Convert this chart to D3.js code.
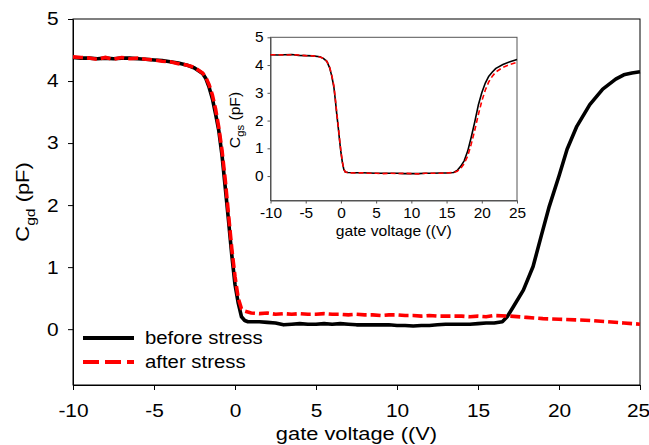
<!DOCTYPE html>
<html><head><meta charset="utf-8">
<script src="https://cdn.jsdelivr.net/npm/d3@7"></script>
<style>
html,body{margin:0;padding:0;background:#fff;}
svg{display:block;font-family:"Liberation Sans",Arial,sans-serif;}
</style></head>
<body><svg id="chart" width="649" height="445"></svg>
<script>
// ---------- data ----------
const xTicks = [-10, -5, 0, 5, 10, 15, 20, 25];
const yTicks = [0, 1, 2, 3, 4, 5];
const seriesNames = ["before stress", "after stress"];

// main plot: C_gd vs gate voltage
const gdBeforeV = [-10,-9.5,-9,-8.5,-8,-7.5,-7,-6.5,-6,-5.5,-5,-4.5,-4,-3.5,-3,-2.5,-2,-1.8,-1.6,-1.4,-1.2,-1,-0.8,-0.6,-0.4,-0.2,0,0.2,0.4,0.6,0.8,1,1.5,2,2.5,3,3.5,4,4.5,5,5.5,6,6.5,7,7.5,8,8.5,9,9.5,10,10.5,11,11.5,12,12.5,13,13.5,14,14.5,15,15.5,16,16.5,16.8,17.2,17.8,18.4,18.9,19.4,20,20.5,21.1,21.9,22.7,23.5,24,24.5,25];
const gdBeforeC = [4.38,4.37,4.37,4.36,4.37,4.36,4.37,4.37,4.36,4.35,4.34,4.33,4.31,4.29,4.26,4.21,4.12,4.04,3.9,3.72,3.47,3.2,2.8,2.28,1.75,1.2,0.72,0.42,0.2,0.14,0.12,0.12,0.12,0.11,0.1,0.07,0.08,0.09,0.08,0.08,0.09,0.08,0.09,0.08,0.07,0.07,0.07,0.07,0.07,0.06,0.06,0.05,0.06,0.06,0.07,0.08,0.08,0.08,0.08,0.09,0.1,0.1,0.12,0.2,0.37,0.63,1.01,1.5,1.98,2.47,2.9,3.27,3.62,3.87,4.03,4.1,4.13,4.15];
const gdAfterV = [-10,-9.5,-9,-8.5,-8,-7.5,-7,-6.5,-6,-5.5,-5,-4.5,-4,-3.5,-3,-2.5,-2,-1.8,-1.6,-1.4,-1.2,-1,-0.8,-0.6,-0.4,-0.2,0,0.2,0.4,0.6,1,1.5,2,2.5,3,3.5,4,4.5,5,5.5,6,6.5,7,7.5,8,8.5,9,9.5,10,10.5,11,11.5,12,12.5,13,13.5,14,14.5,15,15.5,16,17,18,19,20,21,22,23,24,24.5,25];
const gdAfterC = [4.39,4.38,4.37,4.35,4.38,4.35,4.38,4.36,4.37,4.35,4.34,4.32,4.31,4.28,4.26,4.22,4.13,4.06,3.94,3.78,3.55,3.25,2.88,2.4,1.85,1.3,0.85,0.5,0.33,0.29,0.26,0.25,0.26,0.24,0.25,0.24,0.25,0.24,0.24,0.25,0.24,0.24,0.23,0.24,0.23,0.23,0.22,0.23,0.23,0.22,0.22,0.21,0.22,0.21,0.21,0.21,0.21,0.2,0.21,0.2,0.22,0.21,0.19,0.17,0.16,0.15,0.14,0.12,0.1,0.09,0.08];

// inset: C_gs vs gate voltage
const gsBeforeV = [-10,-9,-8,-7,-6,-5,-4,-3,-2.5,-2,-1.6,-1.3,-1,-0.8,-0.6,-0.4,-0.2,0,0.2,0.4,0.6,1,2,3,4,5,6,7,8,9,10,11,12,13,14,15,16,16.5,17,17.5,18,18.5,19,19.5,20,20.5,21,21.5,22,23,24,25];
const gsBeforeC = [4.37,4.36,4.37,4.38,4.35,4.34,4.33,4.3,4.24,4.13,3.9,3.6,3.2,2.75,2.25,1.8,1.3,0.85,0.5,0.25,0.15,0.13,0.12,0.12,0.11,0.1,0.1,0.1,0.1,0.09,0.09,0.09,0.1,0.1,0.11,0.11,0.13,0.2,0.35,0.55,0.9,1.4,1.95,2.55,3.0,3.35,3.6,3.75,3.88,4.02,4.12,4.2];
const gsAfterV = [-10,-9,-8,-7,-6,-5,-4,-3,-2.5,-2,-1.6,-1.3,-1,-0.8,-0.6,-0.4,-0.2,0,0.2,0.4,0.6,1,2,3,4,5,6,7,8,9,10,11,12,13,14,15,16,16.5,17,17.5,18,18.5,19,19.5,20,20.5,21,21.5,22,23,24,25];
const gsAfterC = [4.37,4.37,4.36,4.37,4.36,4.34,4.33,4.29,4.24,4.14,3.92,3.63,3.25,2.8,2.3,1.85,1.35,0.9,0.52,0.26,0.15,0.12,0.11,0.12,0.1,0.1,0.09,0.1,0.09,0.1,0.09,0.08,0.1,0.1,0.1,0.11,0.13,0.17,0.28,0.45,0.72,1.15,1.65,2.2,2.7,3.1,3.4,3.6,3.75,3.92,4.02,4.1];

// ---------- drawing ----------
const svg = d3.select("#chart");
const FONT = 18.5;
const fmt = d => String(d);
const FAM = '"Liberation Sans",Arial,sans-serif';

function drawPanel(g, cfg) {
  const x = d3.scaleLinear().domain([-10, 25]).range([cfg.x0, cfg.x1]);
  const y = d3.scaleLinear().domain([cfg.ymin, 5]).range([cfg.y1, cfg.y0]);
  const s = cfg.stretch;

  g.append("rect").attr("x", cfg.x0).attr("y", cfg.y0)
    .attr("width", cfg.x1 - cfg.x0).attr("height", cfg.y1 - cfg.y0)
    .attr("fill", "#fff").attr("stroke", cfg.axisColor).attr("stroke-width", 1);

  const xa = g.append("g").attr("transform", `translate(0,${cfg.y1})`)
    .call(d3.axisBottom(x).tickValues(xTicks).tickFormat(fmt).tickSize(cfg.tick).tickPadding(cfg.xpad).tickSizeOuter(0));
  const ya = g.append("g").attr("transform", `translate(${cfg.x0},0)`)
    .call(d3.axisLeft(y).tickValues(yTicks).tickFormat(fmt).tickSize(cfg.tick).tickPadding(cfg.ypad).tickSizeOuter(0));
  [xa, ya].forEach(a => {
    a.select(".domain").attr("stroke", cfg.axisColor);
    a.selectAll(".tick line").attr("stroke", cfg.axisColor);
    a.selectAll(".tick text").attr("fill", "#000").style("font-size", cfg.font + "px")
      .style("font-family", FAM);
  });
  // horizontally widen tick labels around their anchor
  xa.selectAll(".tick text").attr("transform", (d) => `translate(${d === 25 ? cfg.lastShift : 0},0) scale(${s},1)`);
  ya.selectAll(".tick text").each(function() {
    const t = d3.select(this); const tx = +t.attr("x");
    t.attr("x", 0).attr("transform", `translate(${tx},0) scale(${s},1)`);
  });

  const line = d3.line().x(d => x(d[0])).y(d => y(d[1]));
  const before = cfg.bv.map((v, i) => [v, cfg.bc[i]]);
  const after = cfg.av.map((v, i) => [v, cfg.ac[i]]);
  g.append("path").datum(before).attr("d", line).attr("fill", "none")
    .attr("stroke", "#000").attr("stroke-width", cfg.lw).attr("stroke-linejoin", "round");
  g.append("path").datum(after).attr("d", line).attr("fill", "none")
    .attr("stroke", "#ff0000").attr("stroke-width", cfg.lw).attr("stroke-dasharray", cfg.dash);

  g.append("text").attr("transform", `translate(${(cfg.x0 + cfg.x1) / 2},${cfg.xtY}) scale(${cfg.titleStretch},1)`)
    .attr("text-anchor", "middle").style("font-size", cfg.font + "px")
    .text("gate voltage ((V)");
  const yt = g.append("text").attr("transform", `translate(${cfg.ytX},${cfg.ytY}) rotate(-90) scale(${cfg.titleStretch},1)`)
    .attr("text-anchor", "middle").style("font-size", cfg.font + "px");
  yt.append("tspan").text("C");
  yt.append("tspan").attr("dy", cfg.font * 0.3).style("font-size", (cfg.font * 0.72) + "px").text(cfg.sub);
  yt.append("tspan").attr("dy", -cfg.font * 0.3).text(" (pF)");
  return { x, y };
}

const main = svg.append("g");
drawPanel(main, {
  x0: 73, x1: 640, y0: 19, y1: 385, ymin: -0.9,
  axisColor: "#000", tick: 5, xpad: 14, ypad: 9.5, font: FONT, stretch: 1.13, titleStretch: 1.18, lastShift: -2,
  bv: gdBeforeV, bc: gdBeforeC, av: gdAfterV, ac: gdAfterC,
  lw: 3.6, dash: "10,4",
  xtY: 440, ytX: 29, ytY: 202, sub: "gd"
});

const leg = svg.append("g");
leg.append("line").attr("x1", 83).attr("x2", 134).attr("y1", 338).attr("y2", 338)
  .attr("stroke", "#000").attr("stroke-width", 4);
leg.append("line").attr("x1", 83).attr("x2", 134).attr("y1", 362).attr("y2", 362)
  .attr("stroke", "#ff0000").attr("stroke-width", 4).attr("stroke-dasharray", "16,6");
leg.selectAll("text.lg").data(seriesNames).join("text").attr("class", "lg")
  .attr("transform", (d, i) => `translate(145,${338 + i * 24}) scale(1.1,1)`).attr("dy", "0.35em")
  .style("font-size", FONT + "px").text(d => d);

const inset = svg.append("g");
drawPanel(inset, {
  x0: 270.5, x1: 517, y0: 37.3, y1: 200.5, ymin: -0.88,
  axisColor: "#555", tick: 3, xpad: 4.5, ypad: 4, font: 14, stretch: 1.1, titleStretch: 1.12, lastShift: 0,
  bv: gsBeforeV, bc: gsBeforeC, av: gsAfterV, ac: gsAfterC,
  lw: 1.6, dash: "5,3",
  xtY: 235.5, ytX: 240, ytY: 120, sub: "gs"
});
</script>
</body></html>
